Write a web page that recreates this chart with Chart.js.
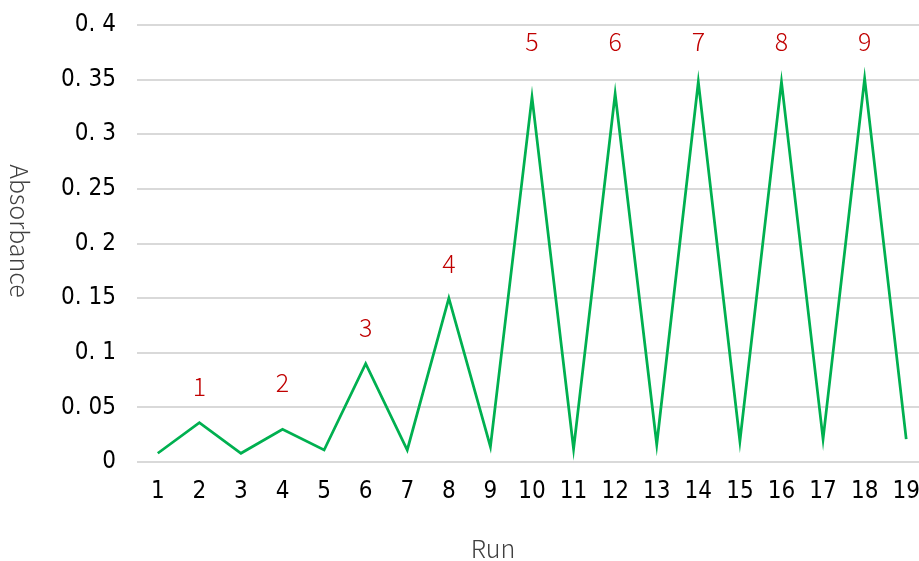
<!DOCTYPE html>
<html>
<head>
<meta charset="utf-8">
<script src="https://cdn.jsdelivr.net/npm/chart.js@4.4.1/dist/chart.umd.min.js"></script>
<style>
  html, body { margin: 0; padding: 0; background: #ffffff; overflow: hidden; }
  #wrap { width: 927px; height: 561px; }
</style>
</head>
<body>
<div id="wrap"><canvas id="chart" width="927" height="561"></canvas></div>
<script>
// Run numbers along the horizontal axis
const runs = ['1','2','3','4','5','6','7','8','9','10','11','12','13','14','15','16','17','18','19'];

// Measured absorbance for each run
const absorbance = [0.008, 0.036, 0.008, 0.030, 0.011, 0.090, 0.011, 0.150, 0.014, 0.334,
                    0.012, 0.337, 0.016, 0.348, 0.019, 0.348, 0.021, 0.351, 0.021];

// Vertical axis tick labels (0 to 0.4 in steps of 0.05)
const yTickLabels = ['0', '0. 05', '0. 1', '0. 15', '0. 2', '0. 25', '0. 3', '0. 35', '0. 4'];

// Sample numbers written above the peaks, the run each belongs to, and the height they sit at
const peakNames = ['1', '2', '3', '4', '5', '6', '7', '8', '9'];
const peakRuns = [2, 4, 6, 8, 10, 12, 14, 16, 18];
const peakNameHeights = [0.069, 0.073, 0.123, 0.182, 0.385, 0.385, 0.385, 0.385, 0.385];

// Axis titles
const xTitle = 'Run';
const yTitle = 'Absorbance';

const xTickFont = { family: "'DejaVu Sans Condensed'", size: 24 };
const yTickFont = { family: "'DejaVu Sans'", size: 24, weight: 'condensed' };
const titleCss = "300 25px 'Noto Sans CJK JP', 'Noto Sans', sans-serif";

// Red sample numbers above the peaks
const peakNamePlugin = {
  id: 'peakNames',
  afterDatasetsDraw(chart) {
    const { ctx, scales } = chart;
    ctx.save();
    ctx.fillStyle = '#C00000';
    ctx.font = "300 25px 'Noto Sans CJK JP', 'Noto Sans', sans-serif";
    ctx.textAlign = 'center';
    ctx.textBaseline = 'middle';
    peakNames.forEach((name, i) => {
      const x = scales.x.getPixelForValue(peakRuns[i] - 1);
      const y = scales.y.getPixelForValue(peakNameHeights[i]);
      ctx.fillText(name, x, y);
    });
    ctx.restore();
  }
};

// Axis titles, placed relative to the plot area
const axisTitlePlugin = {
  id: 'axisTitles',
  afterDraw(chart) {
    const { ctx, chartArea } = chart;
    ctx.save();
    ctx.fillStyle = '#404040';
    ctx.font = titleCss;
    ctx.textAlign = 'center';
    ctx.textBaseline = 'middle';
    ctx.fillText(xTitle, chartArea.left + 356, chartArea.bottom + 86);
    ctx.translate(chartArea.left - 118, chartArea.top + 206);
    ctx.rotate(Math.PI / 2);
    ctx.fillText(yTitle, 0, 0);
    ctx.restore();
  }
};

new Chart(document.getElementById('chart'), {
  type: 'line',
  data: {
    labels: runs,
    datasets: [{
      label: yTitle,
      data: absorbance,
      borderColor: '#00B050',
      borderWidth: 2.75,
      pointRadius: 0,
      pointHoverRadius: 0,
      tension: 0,
      fill: false
    }]
  },
  options: {
    responsive: false,
    animation: false,
    layout: { padding: { top: 25, right: 0, bottom: 0, left: 0 } },
    plugins: {
      legend: { display: false },
      tooltip: { enabled: false }
    },
    scales: {
      x: {
        type: 'category',
        offset: true,
        border: { display: false },
        grid: { display: false, drawTicks: false },
        ticks: { color: '#000000', font: xTickFont, padding: 15, maxRotation: 0, autoSkip: false },
        afterFit(scale) {
          scale.height = 99;
          scale.paddingLeft = 0;
          scale.paddingRight = 0;
        }
      },
      y: {
        min: 0,
        max: 0.4,
        border: { display: false },
        grid: { color: '#D9D9D9', lineWidth: 2, drawTicks: false },
        ticks: {
          stepSize: 0.05,
          color: '#000000',
          font: yTickFont,
          padding: 21,
          callback: (v, i) => yTickLabels[i]
        },
        afterFit(scale) {
          scale.width = 137;
          scale.paddingTop = 0;
          scale.paddingBottom = 0;
        }
      }
    }
  },
  plugins: [peakNamePlugin, axisTitlePlugin]
});
</script>
</body>
</html>
